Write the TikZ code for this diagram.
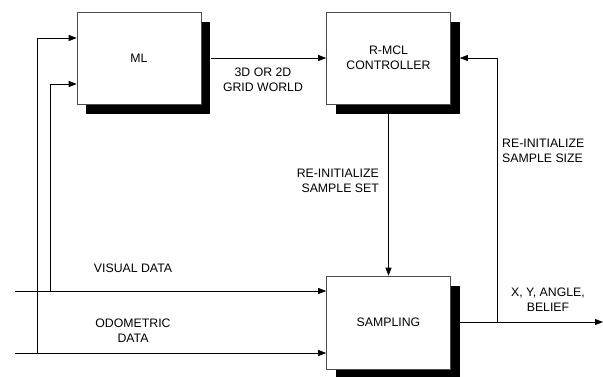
\documentclass[tikz,border=0pt]{standalone}
\usepackage{fontspec}
\setmainfont{Liberation Sans}
\usetikzlibrary{arrows.meta,shadows}
\begin{document}
\begin{tikzpicture}[x=1pt,y=-1pt,
  every node/.style={font=\fontsize{12.3}{15}\selectfont},
  blk/.style={draw=black!70,line width=0.6pt,fill=white,minimum width=124pt,minimum height=92pt,inner sep=0pt,align=center,
    drop shadow={shadow xshift=9pt,shadow yshift=-10pt,fill=black,opacity=1}},
  conn/.style={line width=0.8pt,-{Triangle[length=8pt,width=6pt]}},
  lbl/.style={align=center,inner sep=0pt}]
\useasboundingbox (0,0) rectangle (603,376);
\node[blk] (ml) at (139,58) {ML};
\node[blk] (rmcl) at (388.5,58) {R-MCL\\CONTROLLER};
\node[blk,minimum height=93pt] (samp) at (388.5,322.5) {SAMPLING};
\coordinate (va) at (15,291);
\coordinate (oa) at (15,353);
\coordinate (j1) at (37,353);
\coordinate (j2) at (50,291);
\coordinate (out) at (603,322);
\coordinate (br) at (497,322);
\draw[conn] ([xshift=10pt]ml.east) -- (rmcl.west);
\draw[conn] ([yshift=-10pt]rmcl.south) -- (samp.north);
\draw[conn] ([xshift=9pt]samp.east |- out) -- (out);
\draw[conn] (br) |- ([xshift=9pt]rmcl.east);
\draw[conn] (va) -- (va -| samp.west);
\draw[conn] (oa) -- (oa -| samp.west);
\draw[conn] (j1) |- ([yshift=20pt]ml.west);
\draw[conn] (j2) |- ([yshift=-26pt]ml.west);
\node[lbl] (l1) at (263,80) {3D OR 2D\\GRID WORLD};
\node[lbl,align=right,anchor=east] (l2) at (379,180.5) {RE-INITIALIZE\\SAMPLE SET};
\node[lbl,align=left,anchor=west] (l3) at (502,151) {RE-INITIALIZE\\SAMPLE SIZE};
\node[lbl] (l4) at (548,300) {X, Y, ANGLE,\\BELIEF};
\node[lbl] (l5) at (133,268) {VISUAL DATA};
\node[lbl] (l6) at (133,330.5) {ODOMETRIC\\DATA};
\end{tikzpicture}
\end{document}
